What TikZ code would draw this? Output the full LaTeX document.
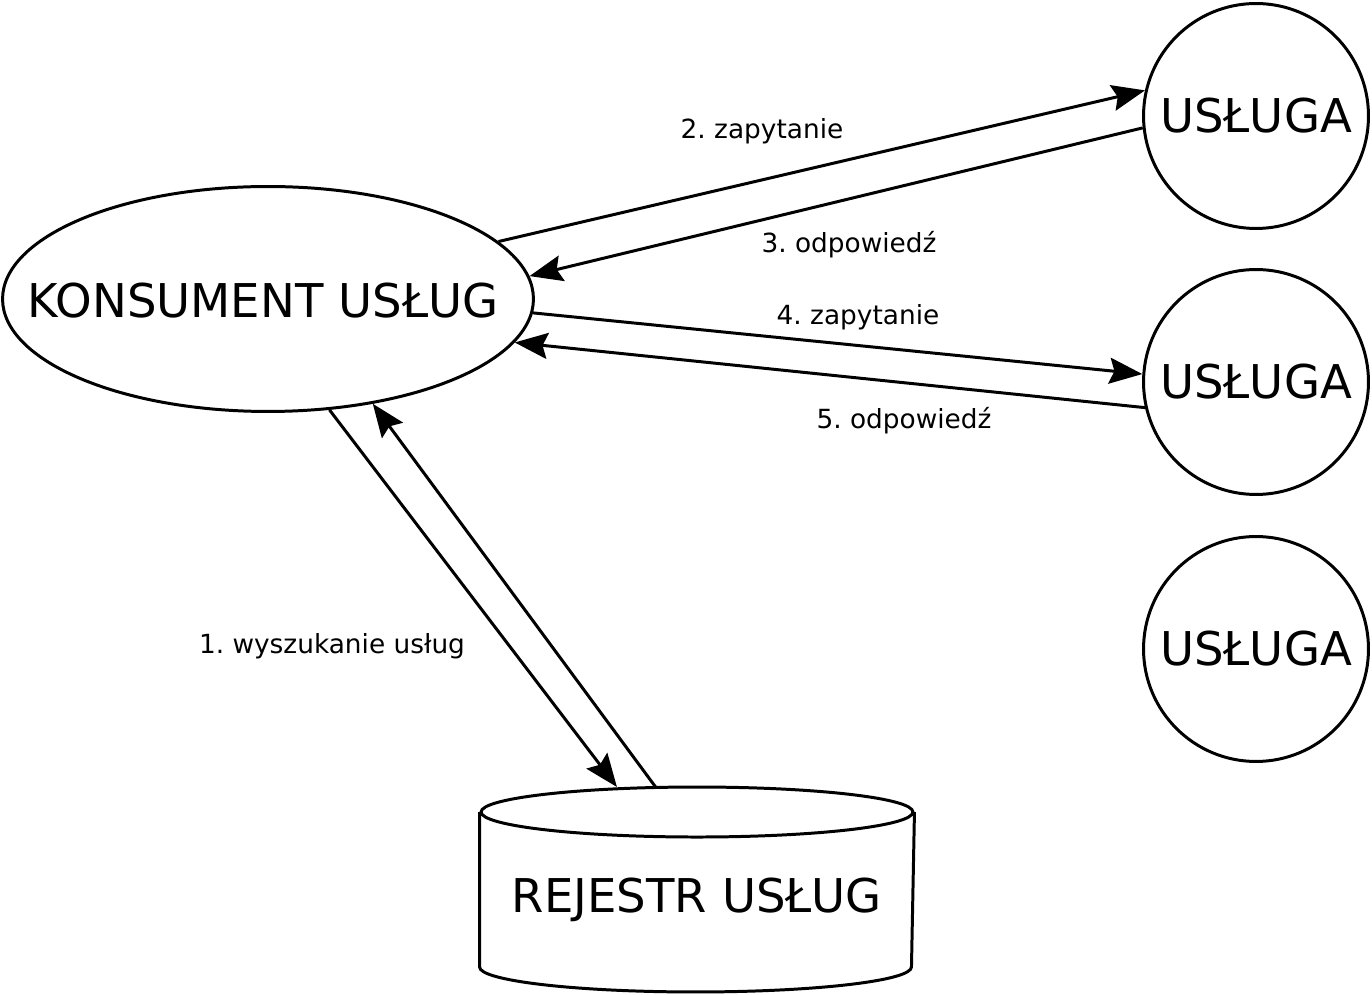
\documentclass[tikz,border=0pt]{standalone}
\usepackage{fontspec}
\setmainfont{DejaVu Sans}
\frenchspacing
\usetikzlibrary{arrows.meta, shapes.geometric}

\begin{document}
\begin{tikzpicture}[x=0.02cm, y=0.02cm, line width=1.7pt,
  bigtext/.style={font=\fontsize{26.5}{30}\selectfont},
  smalltext/.style={font=\fontsize{15}{18}\selectfont},
  flow/.style={-{Stealth[length=0.66cm, width=0.52cm, inset=0.1cm]}},
  service/.style={circle, draw, bigtext, minimum size=4.5cm, inner sep=0pt}]
\useasboundingbox (0,0) rectangle (1372,994);

\node [ellipse, draw, minimum width=10.62cm, minimum height=4.5cm, inner sep=0pt,
  label={[bigtext, xshift=-0.1cm, yshift=-0.04cm]center:KONSUMENT USŁUG}] (Kons) at (268,695) {};

\foreach \y/\name in {878/Us1, 612/Us2, 345/Us3}
\node [service] (\name) at (1256,\y) {USŁUGA};

\node [minimum width=8.64cm, minimum height=4.04cm, inner sep=0pt,
  label={[bigtext, yshift=-0.2cm]center:REJESTR USŁUG}] (Rej) at (697,104.5) {};
\draw ([yshift=-0.5cm]Rej.north west) -- ([yshift=0.5cm]Rej.south west)
  arc [start angle=180, end angle=360, x radius=4.32cm, y radius=0.5cm]
  -- ([yshift=-0.5cm]Rej.north east);
\draw ([yshift=-0.5cm]Rej.north) ellipse [x radius=4.32cm, y radius=0.5cm];

\draw [flow] (Kons.14.3) -- (Us1.167);
\draw [flow] (Us1.186.4) -- (Kons.5.8);
\draw [flow] (Kons.-3.2) -- (Us2.176.5);
\draw [flow] (Us2.193) -- (Kons.-10.6);
\draw [flow] (Kons.-61.9) -- (Rej.128.7);
\draw [flow] (Rej.112.3) -- (Kons.-45.8);

\node [smalltext] (Lab2) at (762,863) {2. zapytanie};
\node [smalltext] (Lab3) at (849,749) {3. odpowiedź};
\node [smalltext] (Lab4) at (858,677) {4. zapytanie};
\node [smalltext] (Lab5) at (904,573) {5. odpowiedź};
\node [smalltext] (Lab1) at (332,348) {1. wyszukanie usług};
\end{tikzpicture}
\end{document}
